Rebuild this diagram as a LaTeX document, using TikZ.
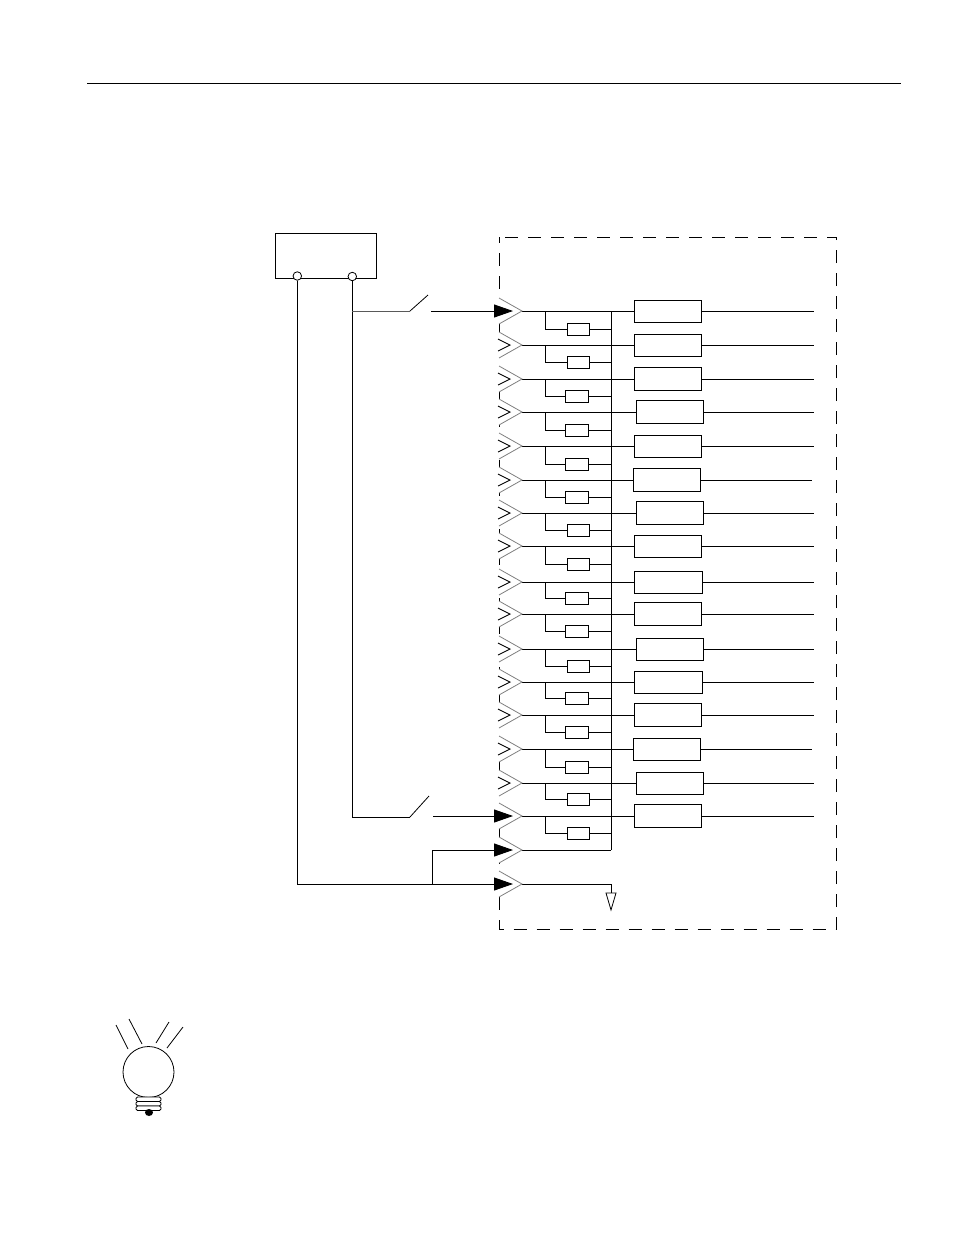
\documentclass[tikz,border=0pt]{standalone}
\usetikzlibrary{arrows.meta}
\begin{document}
\begin{tikzpicture}[
x=1pt, y=-1pt,
wire/.style={line width=0.9pt},
lampbox/.style={rectangle, draw, line width=0.9pt, inner sep=0pt, minimum height=23pt, minimum width=67pt},
resbox/.style={rectangle, draw, line width=0.9pt, inner sep=0pt, minimum height=12pt, minimum width=22pt},
terminal/.style={circle, draw, fill=white, line width=0.8pt, inner sep=0pt, minimum size=8.5pt},
chevron/.style={draw=gray, line width=0.8pt},
feed/.style={line width=0.9pt, -{Triangle[length=19pt,width=13pt]}},
]
\useasboundingbox (0,0) rectangle (954,1235);
\draw[line width=0.8pt] (87,83) -- (901,83);

%Supply
\node[rectangle, draw, line width=0.9pt, minimum width=101.5pt, minimum height=45pt, inner sep=0pt] (supply) at (326,255.5) {};
\node[terminal] (neg) at (297.3,276) {};
\node[terminal] (pos) at (352.3,276.5) {};

%Module outline
\draw[line width=0.9pt, dashed, dash pattern=on 13pt off 10pt, dash phase=7pt] (499.5,237) rectangle (836.5,929);

%Bus
\coordinate (bustop) at (611,311);
\coordinate (busend) at (611,850);
\draw[wire] (bustop) -- (busend);
\draw[line width=1.4pt] (611.5,362) -- (611.5,379);
\draw[line width=1.4pt] (611.5,530) -- (611.5,546);

%Rows: number/y/lamp x/lamp width/lamp height/resistor x/resistor width/resistor y/end x
\foreach \i/\y/\lx/\lw/\lh/\rx/\rw/\ry/\e in {
1/311/667.5/67/22/578/22/329/814,
2/345/667.5/67/22/578/22/362/814,
3/379/667.5/67/23/576.5/23/396/814,
4/412/669.5/67/23/576.5/23/430/814,
5/446/667.5/67/22/576.5/23/464/814,
6/480/666.5/67/23/576.5/23/497/812,
7/513/669.5/67/23/578/22/530/814,
8/546/667.5/67/22/578/22/564/814,
9/582/668/68/22/576.5/23/598/814,
10/614/667.5/67/23/576.5/23/631/814,
11/649/669.5/67/22/578/22/666/814,
12/682/668/68/22/576.5/23/698/814,
13/715/667.5/67/23/576.5/23/732/814,
14/749/666.5/67/22/576.5/23/767/812,
15/783/669.5/67/22/578/22/799/814,
16/816/667.5/67/23/578/22/833/814}{
  \coordinate (in\i) at (522,\y);
  \coordinate (tap\i) at (545,\y);
  \coordinate (out\i) at (\e,\y);
  \node[lampbox, minimum width=\lw pt, minimum height=\lh pt] (lamp\i) at (\lx,\y) {};
  \node[resbox, minimum width=\rw pt] (res\i) at (\rx,\ry) {};
  \draw[wire] (in\i) -- (lamp\i.west);
  \draw[wire] (lamp\i.east) -- (out\i);
  \draw[wire] (tap\i) |- (res\i.west);
  \draw[wire] (res\i.east) -- (res\i.east -| bustop);
}

\coordinate (in17) at (522,850);
\coordinate (in18) at (522,884);
\coordinate (gnd) at (611,893);
\draw[wire] (in17) -- (busend);
\draw[wire] (in18) -| (gnd);
\draw[line width=0.8pt] (gnd) ++(-5,0) -- ++(10,0) -- (611,910) -- cycle;

%Connectors
\foreach \i in {1,...,18}{
  \fill[white] (in\i) ++(-26,-13) rectangle ++(26,26);
  \draw[chevron] (in\i) ++(-23,-13) -- (in\i) -- ++(-23,13);
}
\foreach \i in {2,...,15}{
  \draw[line width=0.9pt] (in\i) ++(-24,-6) -- ++(12,6) -- ++(-12,6);
}
\coordinate (sw1) at (410,311);
\coordinate (sw2) at (410,817);
\coordinate (from1) at (431,311);
\coordinate (from2) at (433,816);
\coordinate (join) at (432,884);
\draw[wire] (neg.south) |- (join);
\draw[wire] (pos.south) |- (sw2);
\draw[line width=0.9pt, black!65] (pos.south |- sw1) -- (sw1);
\draw[line width=0.8pt] (sw1) -- ++(18,-16);
\draw[line width=0.8pt] (sw2) -- ++(19,-21);
\draw[feed] (from1) -- (in1 -| 513,0);
\draw[feed] (from2) -- (in16 -| 513,0);
\draw[feed] (join) |- (in17 -| 513,0);
\draw[feed] (join) -- (in18 -| 513,0);

%Bulb
\draw[line width=0.8pt] (148.5,1072) circle (25.5);
\draw[line width=0.8pt] (116,1025) -- (128,1049);
\draw[line width=0.8pt] (129,1019) -- (142,1044);
\draw[line width=0.8pt] (169,1022) -- (156,1043);
\draw[line width=0.8pt] (183,1027) -- (167,1048);
\foreach \y in {1097,1101.5,1106}{
  \draw[line width=0.8pt, fill=white, rounded corners=1.5pt] (136,\y) rectangle (161,\y+4.5);
}
\fill (149,1112.5) ellipse (4 and 3.5);
\end{tikzpicture}
\end{document}
